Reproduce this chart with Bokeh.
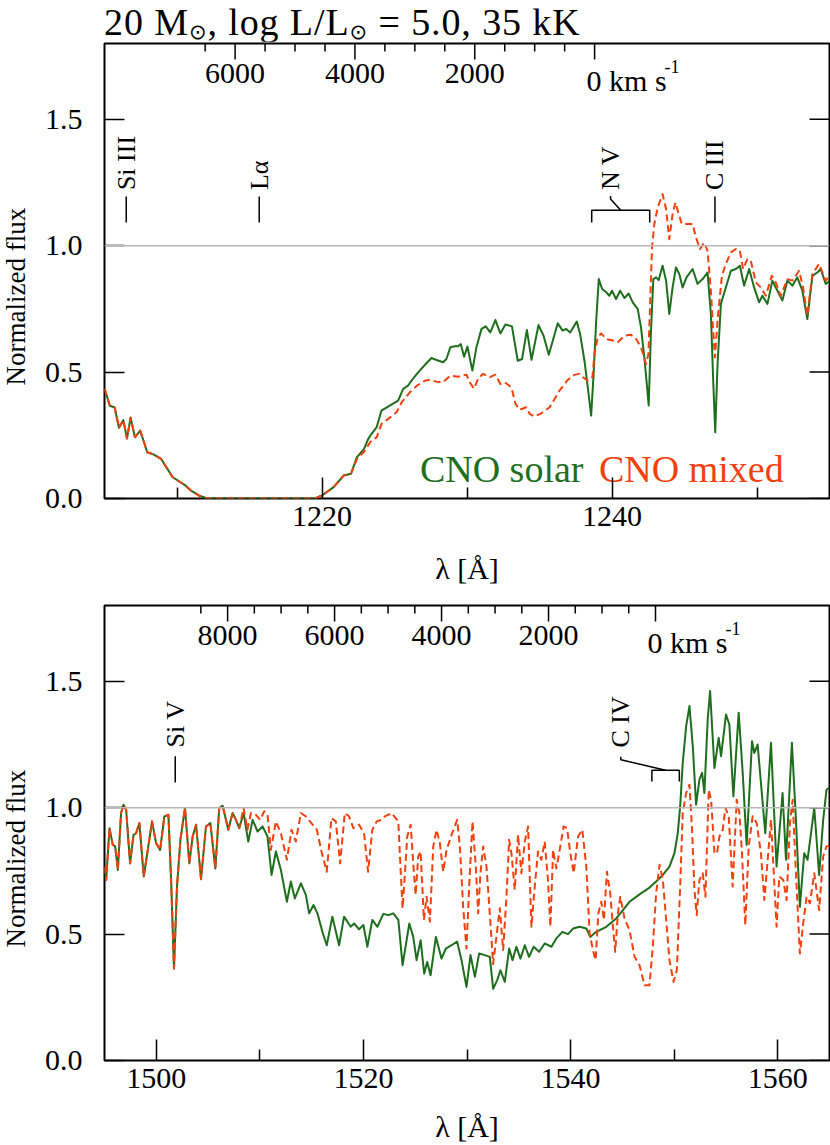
import numpy as np
from bokeh.plotting import figure
from bokeh.layouts import column, row
from bokeh.models import FixedTicker, Span, NumeralTickFormatter, Div
from bokeh.core.properties import value
from bokeh.embed import file_html
from bokeh.resources import INLINE

C_KMS = 299792.458
FONT = "Liberation Serif"
GREEN = "#1e6e1e"
RED = "#f2400f"
GREY = "#b8b8b8"

# ---------------- top panel (N V region) ----------------
top_common_wl = [1205.0, 1205.37, 1205.7, 1206.0, 1206.3, 1206.55, 1206.8, 1207.1, 1207.46, 1207.95,
                 1208.4, 1208.9, 1209.7, 1210.5, 1211.0, 1211.5, 1212.1, 1219.5, 1220.0, 1220.8,
                 1221.5, 1222.0]
top_common_fx = [0.435, 0.367, 0.36, 0.28, 0.31, 0.237, 0.32, 0.242, 0.269, 0.183,
                 0.174, 0.157, 0.084, 0.055, 0.03, 0.012, 0.0, 0.0, 0.012, 0.045,
                 0.091, 0.098]

top_solar_wl = [1222.4, 1222.9, 1223.19, 1223.42, 1223.77, 1224.1, 1224.7, 1225.25, 1225.6, 1225.94,
                1226.17, 1226.63, 1227.2, 1227.55, 1227.9, 1228.35, 1228.58, 1228.85, 1229.15, 1229.38,
                1229.57, 1229.8, 1230.03, 1230.37, 1230.65, 1231.0, 1231.29, 1231.61, 1231.96, 1232.3,
                1232.65, 1233.1, 1233.5, 1233.8, 1234.13, 1234.45, 1234.93, 1235.28, 1235.64, 1236.26,
                1236.6, 1236.84, 1237.12, 1237.57, 1237.8, 1238.1, 1238.33, 1238.56, 1238.72, 1238.91,
                1239.09, 1239.32, 1239.6, 1239.82, 1240.0, 1240.28, 1240.56, 1240.86, 1241.15, 1241.43,
                1241.77, 1242.0, 1242.23, 1242.42, 1242.53, 1242.69, 1242.85, 1243.04, 1243.22, 1243.49,
                1243.73, 1243.95, 1244.18, 1244.41, 1244.64, 1244.87, 1245.14, 1245.56, 1245.9, 1246.25,
                1246.59, 1246.82, 1246.98, 1247.12, 1247.28, 1247.51, 1247.85, 1248.2, 1248.54, 1248.82,
                1249.11, 1249.46, 1249.8, 1250.15, 1250.37, 1250.72, 1251.06, 1251.41, 1251.75, 1252.1,
                1252.44, 1252.78, 1253.13, 1253.47, 1253.82, 1254.16, 1254.39, 1254.74, 1255.0]
top_solar_fx = [0.163, 0.196, 0.236, 0.256, 0.282, 0.348, 0.368, 0.387, 0.434, 0.447,
                0.466, 0.499, 0.535, 0.556, 0.548, 0.539, 0.552, 0.598, 0.602, 0.602,
                0.611, 0.561, 0.601, 0.506, 0.598, 0.671, 0.681, 0.657, 0.706, 0.653,
                0.688, 0.681, 0.545, 0.552, 0.667, 0.549, 0.686, 0.644, 0.569, 0.693,
                0.664, 0.671, 0.657, 0.70, 0.651, 0.545, 0.44, 0.328, 0.48, 0.704,
                0.868, 0.829, 0.816, 0.802, 0.822, 0.789, 0.822, 0.793, 0.811, 0.776,
                0.75, 0.677, 0.558, 0.44, 0.368, 0.664, 0.868, 0.875, 0.864, 0.921,
                0.862, 0.73, 0.835, 0.914, 0.888, 0.835, 0.875, 0.908, 0.849, 0.868,
                0.894, 0.73, 0.466, 0.262, 0.532, 0.77, 0.835, 0.901, 0.908, 0.921,
                0.842, 0.908, 0.835, 0.776, 0.802, 0.77, 0.862, 0.822, 0.783, 0.862,
                0.842, 0.875, 0.822, 0.71, 0.881, 0.894, 0.908, 0.849, 0.86]

top_mixed_wl = [1222.4, 1222.9, 1223.4, 1223.77, 1224.1, 1224.7, 1225.14, 1225.5, 1226.06, 1226.56,
                1227.1, 1227.44, 1227.9, 1228.35, 1228.85, 1229.38, 1229.96, 1230.19, 1230.48, 1230.76,
                1231.1, 1231.57, 1231.96, 1232.3, 1232.6, 1233.06, 1233.35, 1233.63, 1234.09, 1234.32,
                1234.66, 1235.12, 1235.7, 1236.38, 1236.95, 1237.4, 1237.76, 1237.99, 1238.33, 1238.65,
                1238.79, 1239.02, 1239.25, 1239.6, 1240.05, 1240.4, 1240.86, 1241.31, 1241.66, 1242.0,
                1242.35, 1242.51, 1242.62, 1242.76, 1242.92, 1243.15, 1243.49, 1243.73, 1243.95, 1244.18,
                1244.37, 1244.6, 1244.82, 1245.21, 1245.56, 1245.79, 1246.07, 1246.36, 1246.59, 1246.82,
                1246.98, 1247.1, 1247.28, 1247.58, 1247.85, 1248.2, 1248.54, 1248.82, 1249.04, 1249.34,
                1249.57, 1249.92, 1250.26, 1250.61, 1251.02, 1251.29, 1251.64, 1252.1, 1252.44, 1252.9,
                1253.18, 1253.47, 1253.82, 1254.28, 1254.74, 1255.0]
top_mixed_fx = [0.155, 0.185, 0.229, 0.242, 0.295, 0.321, 0.341, 0.381, 0.42, 0.447,
                0.466, 0.47, 0.462, 0.46, 0.486, 0.482, 0.49, 0.46, 0.434, 0.473,
                0.493, 0.48, 0.49, 0.453, 0.46, 0.44, 0.374, 0.351, 0.361, 0.335,
                0.324, 0.337, 0.361, 0.427, 0.469, 0.489, 0.493, 0.48, 0.466, 0.48,
                0.572, 0.637, 0.653, 0.631, 0.625, 0.618, 0.644, 0.648, 0.631, 0.598,
                0.532, 0.572, 0.756, 0.993, 1.086, 1.151, 1.204, 1.145, 1.026, 1.125,
                1.171, 1.125, 1.086, 1.086, 1.086, 1.033, 0.987, 1.013, 0.98, 0.822,
                0.664, 0.558, 0.704, 0.881, 0.928, 0.974, 0.987, 0.98, 0.908, 0.947,
                0.941, 0.855, 0.835, 0.802, 0.881, 0.855, 0.802, 0.868, 0.862, 0.901,
                0.835, 0.723, 0.888, 0.928, 0.862, 0.88]

# ---------------- bottom panel (C IV region) ----------------
bot_common_wl = [1495.0, 1495.16, 1495.48, 1495.8, 1496.03, 1496.29, 1496.6, 1496.83, 1497.09, 1497.47,
                 1497.8, 1498.05, 1498.37, 1498.79, 1499.18, 1499.59, 1499.98, 1500.37, 1500.78, 1501.17,
                 1501.43, 1501.71, 1502.0, 1502.33, 1502.77, 1503.19, 1503.51, 1503.84, 1504.32, 1504.8,
                 1505.22, 1505.7, 1506.08, 1506.41, 1506.95, 1507.37, 1507.69, 1508.01]
bot_common_fx = [0.767, 0.714, 0.919, 0.853, 0.847, 0.754, 0.979, 1.012, 0.992, 0.78,
                 0.893, 0.899, 0.939, 0.728, 0.833, 0.946, 0.86, 0.833, 0.966, 0.972,
                 0.714, 0.364, 0.688, 0.873, 0.999, 0.78, 0.886, 0.933, 0.717, 0.926,
                 0.939, 0.76, 0.999, 1.008, 0.913, 0.979, 0.952, 0.919]

bot_solar_wl = [1508.43, 1508.88, 1509.3, 1509.78, 1510.26, 1510.74, 1511.13, 1511.55, 1512.03, 1512.61,
                1512.99, 1513.38, 1513.96, 1514.44, 1514.76, 1515.18, 1515.56, 1516.04, 1516.46, 1517.0,
                1517.65, 1518.13, 1518.77, 1519.1, 1519.58, 1520.0, 1520.38, 1520.86, 1521.35, 1521.92,
                1522.4, 1522.89, 1523.37, 1523.78, 1524.43, 1524.81, 1525.13, 1525.52, 1525.87, 1526.16,
                1526.48, 1527.0, 1527.54, 1527.96, 1528.5, 1529.05, 1529.47, 1529.95, 1530.34, 1530.76,
                1531.17, 1531.72, 1532.2, 1532.52, 1532.91, 1533.23, 1533.65, 1534.07, 1534.39, 1534.77,
                1535.16, 1535.58, 1535.99, 1536.44, 1536.96, 1537.5, 1538.15, 1538.63, 1539.21, 1539.75,
                1540.24, 1540.88, 1541.52, 1541.9, 1542.48, 1543.45, 1544.41, 1545.69, 1546.66, 1547.62,
                1548.26, 1548.91, 1549.55, 1550.03, 1550.35, 1550.58, 1550.83, 1551.16, 1551.48, 1551.8,
                1552.12, 1552.44, 1552.7, 1552.92, 1553.24, 1553.47, 1553.89, 1554.3, 1554.53, 1555.01,
                1555.33, 1555.72, 1556.23, 1556.62, 1557.0, 1557.52, 1557.74, 1558.06, 1558.8, 1559.35,
                1559.89, 1560.47, 1560.8, 1561.37, 1561.76, 1562.14, 1562.56, 1562.88, 1563.53, 1564.0,
                1564.39, 1564.71, 1565.0]
bot_solar_fx = [0.979, 0.866, 0.952, 0.906, 0.926, 0.886, 0.734, 0.827, 0.754, 0.628,
                0.708, 0.641, 0.701, 0.655, 0.582, 0.615, 0.582, 0.509, 0.456, 0.569,
                0.456, 0.569, 0.529, 0.542, 0.519, 0.536, 0.45, 0.556, 0.529, 0.58,
                0.575, 0.582, 0.556, 0.377, 0.542, 0.489, 0.397, 0.476, 0.344, 0.39,
                0.337, 0.489, 0.403, 0.443, 0.456, 0.47, 0.397, 0.291, 0.417, 0.331,
                0.423, 0.417, 0.41, 0.284, 0.317, 0.357, 0.311, 0.443, 0.397, 0.45,
                0.403, 0.456, 0.41, 0.45, 0.43, 0.463, 0.45, 0.483, 0.509, 0.5,
                0.522, 0.529, 0.522, 0.489, 0.509, 0.529, 0.562, 0.628, 0.657, 0.684,
                0.708, 0.734, 0.767, 0.82, 0.899, 1.005, 1.177, 1.323, 1.402, 1.243,
                1.012, 1.111, 1.138, 1.058, 1.349, 1.462, 1.157, 1.276, 1.204, 1.369,
                1.329, 1.045, 1.376, 1.138, 0.853, 1.263, 1.217, 1.25, 0.899, 1.257,
                0.767, 1.058, 0.794, 1.257, 0.952, 0.608, 0.82, 0.794, 0.999, 0.734,
                0.952, 1.071, 1.08]

bot_mixed_wl = [1508.43, 1508.8, 1509.14, 1509.62, 1510.04, 1510.42, 1510.74, 1511.06, 1511.55, 1512.03,
                1512.61, 1513.06, 1513.47, 1513.96, 1514.44, 1514.98, 1515.5, 1515.95, 1516.46, 1516.91,
                1517.33, 1517.75, 1518.2, 1518.61, 1519.03, 1519.58, 1520.06, 1520.45, 1520.86, 1521.28,
                1521.73, 1522.08, 1522.72, 1523.37, 1523.59, 1523.78, 1524.01, 1524.23, 1524.56, 1524.81,
                1525.04, 1525.29, 1525.52, 1525.84, 1526.1, 1526.42, 1526.74, 1527.06, 1527.38, 1527.7,
                1528.03, 1528.51, 1529.05, 1529.31, 1529.63, 1529.95, 1530.21, 1530.53, 1530.85, 1531.08,
                1531.3, 1531.56, 1531.88, 1532.2, 1532.52, 1532.84, 1533.17, 1533.49, 1533.81, 1534.07,
                1534.29, 1534.61, 1534.93, 1535.25, 1535.58, 1535.9, 1536.22, 1536.54, 1536.86, 1537.18,
                1537.5, 1537.82, 1538.05, 1538.31, 1538.63, 1538.95, 1539.33, 1539.66, 1539.98, 1540.3,
                1540.72, 1541.13, 1541.52, 1541.84, 1542.16, 1542.42, 1542.68, 1542.97, 1543.22, 1543.51,
                1543.83, 1544.09, 1544.31, 1544.57, 1544.8, 1545.21, 1545.69, 1546.18, 1546.66, 1547.14,
                1547.62, 1547.94, 1548.26, 1548.59, 1548.91, 1549.23, 1549.55, 1549.94, 1550.26, 1550.58,
                1550.83, 1551.16, 1551.48, 1551.73, 1551.96, 1552.18, 1552.44, 1552.76, 1553.02, 1553.34,
                1553.57, 1553.89, 1554.14, 1554.37, 1554.69, 1554.95, 1555.27, 1555.65, 1556.04, 1556.3,
                1556.55, 1556.87, 1557.2, 1557.58, 1557.97, 1558.38, 1558.71, 1559.03, 1559.35, 1559.67,
                1559.89, 1560.15, 1560.54, 1560.86, 1561.18, 1561.44, 1561.76, 1562.14, 1562.46, 1562.79,
                1563.11, 1563.53, 1564.0, 1564.39, 1564.71, 1565.0]
bot_mixed_fx = [0.999, 0.913, 0.979, 0.972, 0.952, 0.986, 0.972, 0.833, 0.946, 0.899,
                0.794, 0.913, 0.866, 0.979, 0.966, 0.939, 0.913, 0.827, 0.747, 0.959,
                0.946, 0.78, 0.979, 0.966, 0.919, 0.933, 0.899, 0.747, 0.913, 0.946,
                0.952, 0.966, 0.979, 0.946, 0.754, 0.602, 0.741, 0.886, 0.933, 0.78,
                0.655, 0.807, 0.827, 0.556, 0.648, 0.549, 0.847, 0.913, 0.86, 0.747,
                0.833, 0.893, 0.952, 0.847, 0.608, 0.443, 0.688, 0.946, 0.767, 0.582,
                0.741, 0.847, 0.767, 0.582, 0.381, 0.489, 0.602, 0.437, 0.648, 0.873,
                0.82, 0.675, 0.893, 0.741, 0.866, 0.926, 0.529, 0.688, 0.827, 0.794,
                0.866, 0.714, 0.529, 0.833, 0.76, 0.833, 0.926, 0.919, 0.82, 0.741,
                0.886, 0.913, 0.767, 0.503, 0.437, 0.397, 0.582, 0.628, 0.556, 0.747,
                0.661, 0.529, 0.43, 0.582, 0.648, 0.562, 0.516, 0.41, 0.377, 0.298,
                0.298, 0.45, 0.661, 0.774, 0.714, 0.556, 0.397, 0.311, 0.357, 0.688,
                0.979, 1.058, 1.091, 0.913, 0.675, 0.575, 0.714, 0.741, 0.648, 1.071,
                1.032, 0.82, 0.82, 0.886, 0.913, 0.999, 0.966, 0.688, 1.032, 0.979,
                0.82, 0.536, 0.847, 0.966, 0.939, 0.82, 0.635, 0.794, 0.952, 0.701,
                0.529, 0.728, 0.714, 0.635, 0.939, 1.032, 0.741, 0.423, 0.542, 0.648,
                0.622, 0.741, 0.595, 0.807, 0.847, 0.85]

# axes / annotations
flux_ticks = [0.0, 0.5, 1.0, 1.5]
top_xrange = (1205, 1255)
bot_xrange = (1495, 1565)
yrange = (0, 1.8)
top_major = [1220, 1240]
top_minor = [1210, 1230, 1250]
bot_major = [1500, 1520, 1540, 1560]
bot_minor = [1510, 1530, 1550]

top_lam0 = 1238.8
bot_lam0 = 1548.2
top_vel = [0, 500, 1000, 1500, 2000, 2500, 3000, 3500, 4000, 4500, 5000, 5500, 6000, 6500]
bot_vel = [0, 500, 1000, 1500, 2000, 2500, 3000, 3500, 4000, 4500, 5000, 5500, 6000, 6500,
           7000, 7500, 8000, 8500]
top_vel_labels = [2000, 4000, 6000]
bot_vel_labels = [2000, 4000, 6000, 8000]

top_ids_wl = [1206.5, 1215.67, 1247.1]
top_ids_name = ["Si III", "L\u03b1", "C III"]
bot_ids_wl = [1501.83]
bot_ids_name = ["Si V"]
nv_doublet = [1238.6, 1242.6]
civ_doublet = [1547.85, 1550.5]

FW, FH = 725, 455
LW = 30  # width of the strip carrying the y-axis title
PXY = (yrange[1] - yrange[0]) / FH  # data units per pixel (vertical)


def ylabel_strip(height, top_border, bottom_border):
    s = figure(width=LW, height=height, x_range=(0, LW), y_range=yrange,
               output_backend="svg", toolbar_location=None, x_axis_type=None, y_axis_type=None,
               min_border_left=0, min_border_right=0,
               min_border_top=top_border, min_border_bottom=bottom_border,
               background_fill_color="white", border_fill_color="white")
    s.outline_line_color = None
    s.grid.visible = False
    s.text(x=[15], y=[113 * PXY], text=["Normalized flux"], angle=np.pi / 2,
           text_align="left", text_baseline="middle", text_font=value(FONT),
           text_font_size="27px", text_color="black")
    return s


def make_panel(xr, height, top_border, bottom_border, major, minor, xlab_standoff):
    p = figure(width=830 - LW, height=height, x_range=xr, y_range=yrange,
               output_backend="svg", toolbar_location=None,
               min_border_left=104 - LW, min_border_right=1,
               min_border_top=top_border, min_border_bottom=bottom_border,
               background_fill_color="white", border_fill_color="white")
    p.grid.visible = False
    p.outline_line_color = "black"
    p.outline_line_width = 2
    p.outline_line_alpha = 1.0
    # x axis
    xa = p.xaxis[0]
    xa.ticker = FixedTicker(ticks=major, minor_ticks=minor)
    xa.major_tick_in = 21
    xa.major_tick_out = 0
    xa.minor_tick_in = 11
    xa.minor_tick_out = 0
    xa.axis_line_color = None
    xa.major_tick_line_width = 1.5
    xa.minor_tick_line_width = 1.5
    xa.major_label_text_font = FONT
    xa.major_label_text_font_size = "30px"
    xa.major_label_text_color = "black"
    xa.major_label_standoff = 8
    xa.axis_label = "\u03bb [\u00c5]"
    xa.axis_label_text_font = FONT
    xa.axis_label_text_font_size = "30px"
    xa.axis_label_text_font_style = "normal"
    xa.axis_label_text_color = "black"
    xa.axis_label_standoff = xlab_standoff
    # y axis
    ya = p.yaxis[0]
    ya.ticker = FixedTicker(ticks=flux_ticks)
    ya.formatter = NumeralTickFormatter(format="0.0")
    ya.major_tick_in = 20
    ya.major_tick_out = 0
    ya.minor_tick_line_color = None
    ya.axis_line_color = None
    ya.major_tick_line_width = 1.5
    ya.major_label_text_font = FONT
    ya.major_label_text_font_size = "30px"
    ya.major_label_text_color = "black"
    ya.major_label_standoff = 22
    # mirrored ticks on the right edge of the frame
    dx = (xr[1] - xr[0]) / FW * 20
    p.segment(x0=[xr[1]] * len(flux_ticks), y0=flux_ticks, x1=[xr[1] - dx] * len(flux_ticks),
              y1=flux_ticks, line_color="black", line_width=1.5)
    p.add_layout(Span(location=1.0, dimension="width", line_color=GREY, line_width=1.5))
    return p


def vel_axis(p, lam0, vels, labelled):
    lam = [lam0 * (1 - v / C_KMS) for v in vels]
    major = [v % 2000 == 0 for v in vels]
    y0 = [yrange[1]] * len(vels)
    y1 = [yrange[1] - (16 if m else 8) * PXY for m in major]
    p.segment(x0=lam, y0=y0, x1=lam, y1=y1, line_color="black", line_width=1.5)
    lab_lam = [lam0 * (1 - v / C_KMS) for v in labelled]
    p.text(x=lab_lam, y=[yrange[1]] * len(labelled), text=[str(v) for v in labelled],
           text_align="center", text_baseline="top", y_offset=20,
           text_font=value(FONT), text_font_size="30px", text_color="black")
    p.text(x=[lam0], y=[yrange[1]], text=["0 km s"], text_align="left", text_baseline="top",
           x_offset=-8, y_offset=20, text_font=value(FONT), text_font_size="30px", text_color="black")
    p.text(x=[lam0], y=[yrange[1]], text=["-1"], text_align="left", text_baseline="top",
           x_offset=70, y_offset=16, text_font=value(FONT), text_font_size="18px", text_color="black")


def line_ids(p, wls, names, y_lo, y_hi, y_txt):
    p.segment(x0=wls, y0=[y_lo] * len(wls), x1=wls, y1=[y_hi] * len(wls),
              line_color="black", line_width=1.5)
    p.text(x=wls, y=[y_txt] * len(wls), text=names, angle=np.pi / 2,
           text_align="left", text_baseline="middle",
           text_font=value(FONT), text_font_size="26px", text_color="black")


def doublet(p, pair, y_leg, y_bar, x_lab, y_knee, y_top, y_txt, name):
    a, b = pair
    mid = 0.5 * (a + b)
    p.multi_line(xs=[[a, a, b, b], [mid, x_lab, x_lab]],
                 ys=[[y_leg, y_bar, y_bar, y_leg], [y_bar, y_knee, y_top]],
                 line_color="black", line_width=1.5)
    p.text(x=[x_lab], y=[y_txt], text=[name], angle=np.pi / 2,
           text_align="left", text_baseline="middle",
           text_font=value(FONT), text_font_size="26px", text_color="black")


# ---------------- title ----------------
title_html = (
    "<div style=\"position:relative;width:830px;height:41px;"
    "font-family:'Liberation Serif';font-size:38px;line-height:normal;color:black;\">"
    "<span style=\"position:absolute;left:104px;top:0px;white-space:nowrap;letter-spacing:0.9px;\">"
    "20 M<sub style=\"font-size:21px;line-height:0;font-family:'DejaVu Sans';vertical-align:-4px;\">\u2299</sub>, "
    "log L/L<sub style=\"font-size:21px;line-height:0;font-family:'DejaVu Sans';vertical-align:-4px;\">\u2299</sub>"
    " = 5.0, 35 kK</span></div>"
)
title_div = Div(text=title_html, width=830, height=41, margin=(0, 0, 0, 0))

# ---------------- build top ----------------
H1, T1, B1 = 554, 2, 97
p1 = make_panel(top_xrange, H1, T1, B1, top_major, top_minor, 23)
p1.line(top_common_wl + top_solar_wl, top_common_fx + top_solar_fx, line_color=GREEN,
        line_width=2, line_join="round")
p1.line(top_common_wl + top_mixed_wl, top_common_fx + top_mixed_fx, line_color=RED,
        line_width=2, line_dash="7 4", line_join="round")
vel_axis(p1, top_lam0, top_vel, top_vel_labels)
line_ids(p1, top_ids_wl, top_ids_name, 1.092, 1.195, 1.22)
doublet(p1, nv_doublet, 1.092, 1.14, 1239.9, 1.185, 1.197, 1.22, "N V")
p1.text(x=[1226.75], y=[0.115], text=["CNO solar"], text_font=value(FONT), text_font_size="38px",
        text_color=GREEN, text_baseline="alphabetic", text_align="left")
p1.text(x=[1239.1], y=[0.115], text=["CNO mixed"], text_font=value(FONT), text_font_size="38px",
        text_color=RED, text_baseline="alphabetic", text_align="left")
s1 = ylabel_strip(H1, T1, B1)

# ---------------- build bottom ----------------
H2, T2, B2 = 550, 10, 85
p2 = make_panel(bot_xrange, H2, T2, B2, bot_major, bot_minor, 19)
p2.line(bot_common_wl + bot_solar_wl, bot_common_fx + bot_solar_fx, line_color=GREEN,
        line_width=2, line_join="round")
p2.line(bot_common_wl + bot_mixed_wl, bot_common_fx + bot_mixed_fx, line_color=RED,
        line_width=2, line_dash="7 4", line_join="round")
vel_axis(p2, bot_lam0, bot_vel, bot_vel_labels)
line_ids(p2, bot_ids_wl, bot_ids_name, 1.100, 1.204, 1.238)
doublet(p2, civ_doublet, 1.104, 1.148, 1544.85, 1.19, 1.202, 1.238, "C IV")
s2 = ylabel_strip(H2, T2, B2)

layout = column(title_div, row(s1, p1), row(s2, p2))
open("out.html", "w").write(file_html(layout, INLINE))
